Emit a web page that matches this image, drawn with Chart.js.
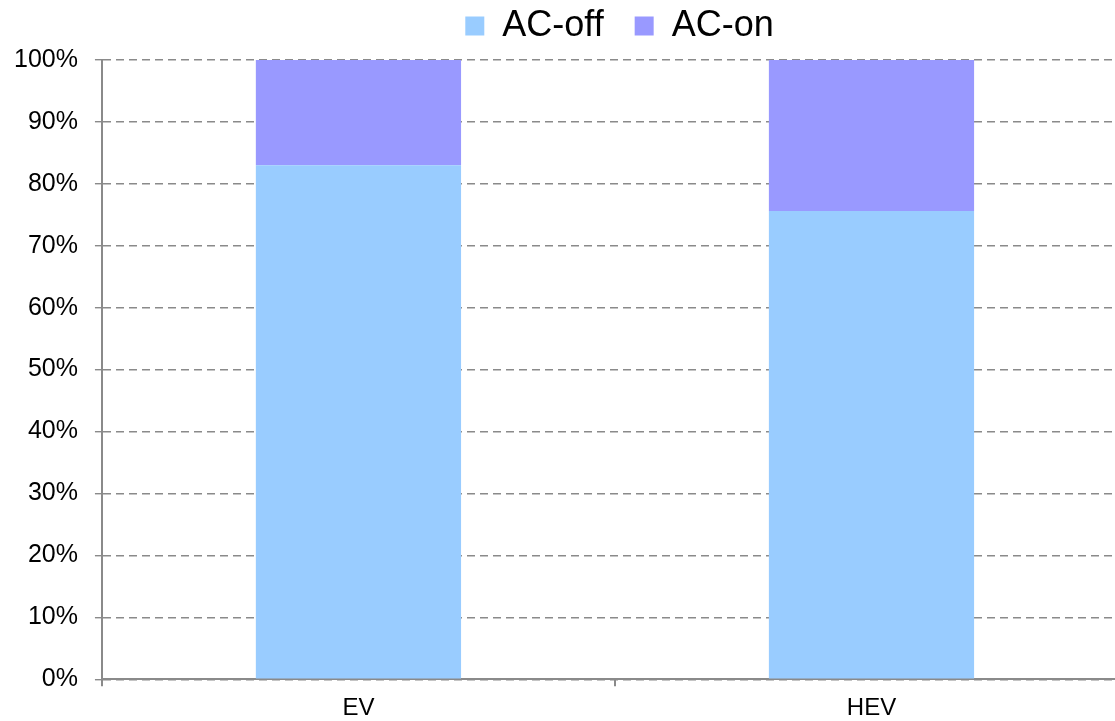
<!DOCTYPE html>
<html>
<head>
<meta charset="utf-8">
<script src="https://cdn.jsdelivr.net/npm/chart.js@4"></script>
<style>
  html, body { margin: 0; padding: 0; background: #fff; overflow: hidden; }
  #wrap { width: 1115px; height: 721px; overflow: hidden; }
</style>
</head>
<body>
<div id="wrap"><canvas id="acChart" width="1128" height="721"></canvas></div>
<script>
// share of energy use, AC off vs AC on
const vehicles = ['EV', 'HEV'];
const acOff = [83, 75.6];
const acOn = [17, 24.4];
const yTicks = [0, 10, 20, 30, 40, 50, 60, 70, 80, 90, 100];

const axisGray = '#8a8a8a';
const fontFamily = 'Liberation Sans, Arial, sans-serif';

// move the legend over the plot instead of the full canvas
const legendShift = {
    id: 'legendShift',
    afterLayout(chart) {
        const lg = chart.legend;
        if (!lg) return;
        lg.left += 57;
        lg.right += 57;
        lg.top -= 6;
        lg.bottom -= 6;
    }
};

new Chart(document.getElementById('acChart'), {
    type: 'bar',
    data: {
        labels: vehicles,
        datasets: [
            { label: 'AC-off', data: acOff, backgroundColor: '#99ccff' },
            { label: 'AC-on', data: acOn, backgroundColor: '#9999ff' }
        ]
    },
    options: {
        responsive: false,
        animation: false,
        datasets: { bar: { categoryPercentage: 1, barPercentage: 0.4 } },
        layout: { padding: { left: -3, right: 0, top: -17, bottom: -10 } },
        plugins: {
            tooltip: { enabled: false },
            legend: {
                position: 'top',
                labels: {
                    color: '#000',
                    font: { family: fontFamily, size: 36 },
                    boxWidth: 19,
                    boxHeight: 19,
                    padding: 31
                }
            }
        },
        scales: {
            x: {
                stacked: true,
                border: { color: axisGray, width: 2 },
                grid: { display: true, drawOnChartArea: false, color: axisGray, lineWidth: 2, tickLength: 7 },
                ticks: { color: '#000', font: { family: fontFamily, size: 24 }, padding: 8 }
            },
            y: {
                stacked: true,
                min: 0,
                max: 100,
                afterBuildTicks(axis) { axis.ticks = yTicks.map(v => ({ value: v })); },
                border: { color: axisGray, width: 2, dash: [8, 5] },
                grid: {
                    color: axisGray,
                    lineWidth: 1.4,
                    tickBorderDash: [],
                    tickLength: 7
                },
                ticks: {
                    color: '#000',
                    font: { family: fontFamily, size: 25 },
                    padding: 17,
                    callback: v => v + '%'
                }
            }
        }
    },
    plugins: [legendShift]
});
</script>
</body>
</html>
